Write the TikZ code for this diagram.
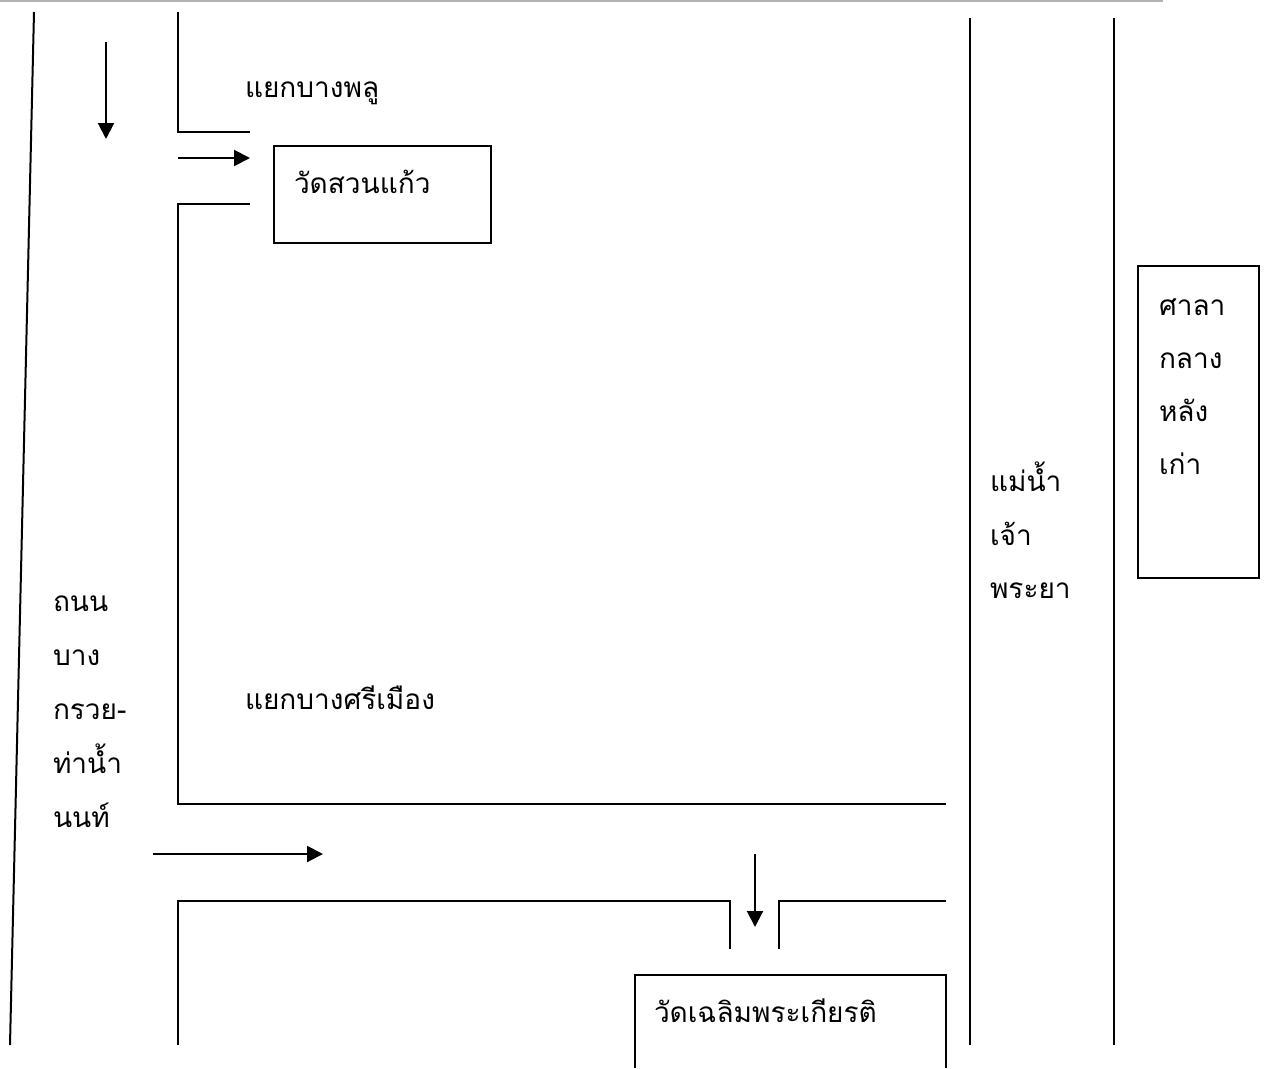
\documentclass[tikz,border=0pt]{standalone}
\usepackage{fontspec}
\usetikzlibrary{arrows.meta}
\newfontfamily\thaifont[Script=Thai]{Loma}
\tikzset{
  road/.style={draw=black,line width=1.5pt,line cap=butt,line join=miter},
  arrowline/.style={road,-{Triangle[length=12pt,width=12pt]}},
  label/.style={anchor=base west,inner sep=0pt,outer sep=0pt,font=\thaifont\fontsize{21}{25}\selectfont},
  topline/.style={draw=black!30,line width=1.5pt}
}
\begin{document}
\begin{tikzpicture}[x=0.75pt,y=-0.75pt]
\useasboundingbox (0,0) rectangle (1269,1068);
\coordinate (topA) at (0,1); \coordinate (topB) at (1163,1);
\draw[topline] (topA) -- (topB);
% left road edge
\coordinate (edgeT) at (34,12); \coordinate (edgeB) at (10,1045);
\draw[road] (edgeT) -- (edgeB);
% side road edges
\draw[road] (178,12) -- (178,132) -- (250,132);
\draw[road] (250,204) -- (178,204) -- (178,804) -- (946,804);
\draw[road] (178,1045) -- (178,901) -- (730,901) -- (730,949);
\draw[road] (946,901) -- (779,901) -- (779,949);
% river
\draw[road] (970,18) -- (970,1045);
\draw[road] (1114,18) -- (1114,1045);
% arrows
\coordinate (a1s) at (106,42); \coordinate (a1e) at (106,139);
\coordinate (a2s) at (178,158); \coordinate (a2e) at (250,158);
\coordinate (a3s) at (153,854); \coordinate (a3e) at (323,854);
\coordinate (a4s) at (755,854); \coordinate (a4e) at (755,927);
\draw[arrowline] (a1s) -- (a1e);
\draw[arrowline] (a2s) -- (a2e);
\draw[arrowline] (a3s) -- (a3e);
\draw[arrowline] (a4s) -- (a4e);
% boxes
\draw[road] (274,146) rectangle (491,243);
\draw[road] (1138,266) rectangle (1259,578);
\draw[road] (635,1068) -- (635,975) -- (946,975) -- (946,1068);
% labels
\node[label] (bangphlu) at (245,97) {\thaifont แยกบางพลู};
\node[label] (suankaeo) at (294,193) {\thaifont วัดสวนแก้ว};
\node[label] (sala1) at (1159,315) {\thaifont ศาลา};
\node[label] (sala2) at (1159,368) {\thaifont กลาง};
\node[label] (sala3) at (1159,421) {\thaifont หลัง};
\node[label] (sala4) at (1159,474) {\thaifont เก่า};
\node[label] (river1) at (990,491) {\thaifont แม่น้ำ};
\node[label] (river2) at (990,545) {\thaifont เจ้า};
\node[label] (river3) at (990,598) {\thaifont พระยา};
\node[label] (road1) at (53,611) {\thaifont ถนน};
\node[label] (road2) at (53,665) {\thaifont บาง};
\node[label] (road3) at (53,719) {\thaifont กรวย-};
\node[label] (road4) at (53,773) {\thaifont ท่าน้ำ};
\node[label] (road5) at (53,827) {\thaifont นนท์};
\node[label] (simueang) at (245,709) {\thaifont แยกบางศรีเมือง};
\node[label] (chaloem) at (654,1022) {\thaifont วัดเฉลิมพระเกียรติ};
\end{tikzpicture}
\end{document}
